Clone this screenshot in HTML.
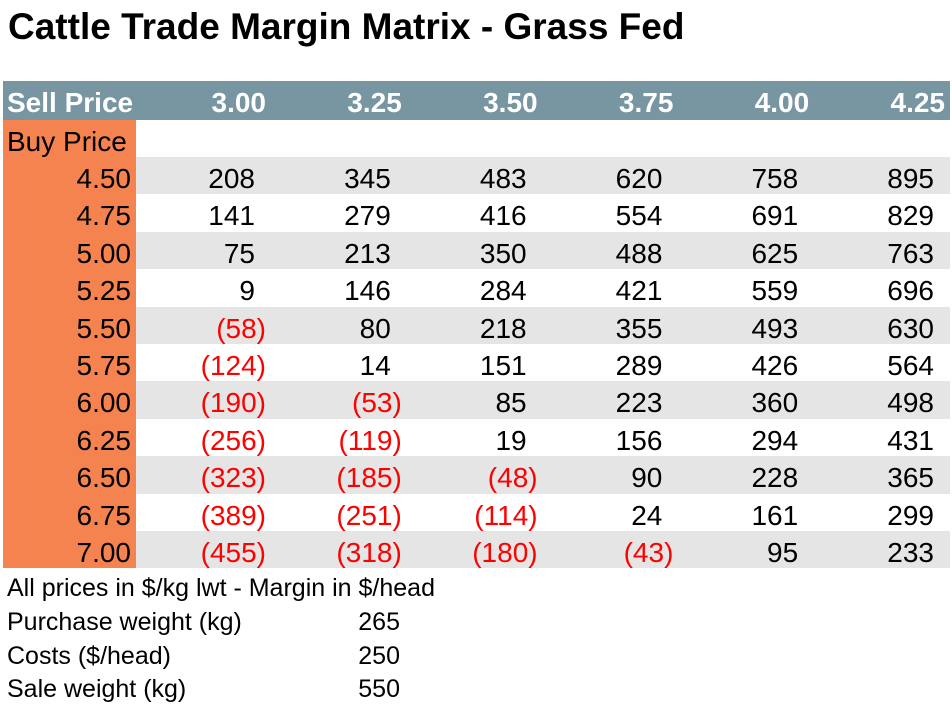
<!DOCTYPE html>
<html><head><meta charset="utf-8">
<style>
body{margin:0;width:952px;height:704px;background:#fff;position:relative;overflow:hidden;font-family:"Liberation Sans",Arial,sans-serif;}
.a{position:absolute;white-space:nowrap;}
.t{font-size:28px;line-height:37px;padding-top:3px;}
.f{font-size:25px;line-height:28px;}
</style></head><body>
<div class="a" style="left:8px;top:6px;font-size:37px;font-weight:bold;line-height:42px;">Cattle Trade Margin Matrix - Grass Fed</div>
<div class="a" style="left:3px;top:81px;width:947px;height:39px;background:#7895a2;"></div>
<div class="a" style="left:3px;top:120px;width:133px;height:448px;background:#f5834f;"></div>
<div class="a t" style="left:7px;top:81px;color:#fff;font-weight:bold;">Sell Price</div>
<div class="a t" style="left:7px;top:120px;">Buy Price</div>
<div id="grid"></div>
<div class="a f" style="left:7px;top:574px;">All prices in $/kg lwt - Margin in $/head</div>
<div class="a f" style="left:7px;top:608px;">Purchase weight (kg)</div>
<div class="a f" style="left:300px;width:100px;text-align:right;top:608px;">265</div>
<div class="a f" style="left:7px;top:642px;">Costs ($/head)</div>
<div class="a f" style="left:300px;width:100px;text-align:right;top:642px;">250</div>
<div class="a f" style="left:7px;top:675px;">Sale weight (kg)</div>
<div class="a f" style="left:300px;width:100px;text-align:right;top:675px;">550</div>
<script>
const sellPrices=["3.00","3.25","3.50","3.75","4.00","4.25"];
const buyPrices=["4.50","4.75","5.00","5.25","5.50","5.75","6.00","6.25","6.50","6.75","7.00"];
const margins=[
[208,345,483,620,758,895],
[141,279,416,554,691,829],
[75,213,350,488,625,763],
[9,146,284,421,559,696],
[-58,80,218,355,493,630],
[-124,14,151,289,426,564],
[-190,-53,85,223,360,498],
[-256,-119,19,156,294,431],
[-323,-185,-48,90,228,365],
[-389,-251,-114,24,161,299],
[-455,-318,-180,-43,95,233]];
const g=document.getElementById('grid');
const colRight=i=>266+i*135.8;
const rowTop=r=>157+r*37.4;
function mk(style,text){const d=document.createElement('div');d.className='a t';d.style.cssText=style;d.textContent=text;g.appendChild(d);return d;}
sellPrices.forEach((s,i)=>{
 const d=mk(`left:${colRight(i)-130}px;width:130px;text-align:right;top:81px;color:#fff;font-weight:bold;`,s);
 
 
});
buyPrices.forEach((b,r)=>{
 if(r%2===0){const bg=document.createElement('div');bg.className='a';bg.style.cssText=`left:136px;top:${rowTop(r)}px;width:814px;height:37.4px;background:#e5e5e5;`;
 
 
 g.appendChild(bg);}
});
buyPrices.forEach((b,r)=>{
 const d=mk(`left:0;width:131px;text-align:right;top:${rowTop(r)}px;`,b);
 
 
 margins[r].forEach((v,i)=>{
  const neg=v<0;
  const c=mk(`left:${colRight(i)-130-(neg?0:11)}px;width:130px;text-align:right;top:${rowTop(r)}px;color:${neg?'#f00':'#000'};`,neg?'('+(-v)+')':String(v));
  
  
 });
});
</script>
</body></html>
